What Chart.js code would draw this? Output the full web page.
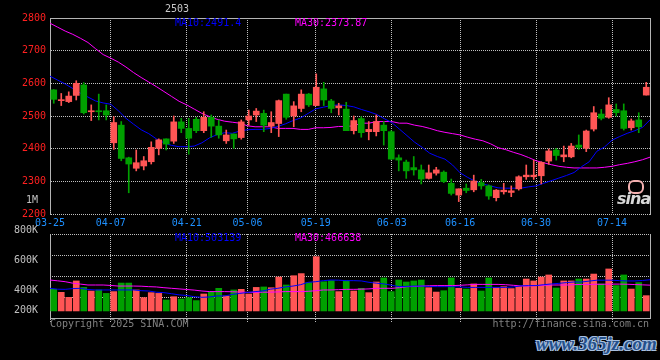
<!DOCTYPE html>
<html><head><meta charset="utf-8">
<script src="https://cdn.jsdelivr.net/npm/chart.js@4.4.1/dist/chart.umd.min.js"></script>
<style>
html,body{margin:0;padding:0;background:#000;width:660px;height:360px;overflow:hidden;}
#wrap{position:relative;width:660px;height:360px;background:#000;}
canvas{position:absolute;left:0;}
#c1{top:0;} #c2{top:190px;}
.t{position:absolute;font-family:'DejaVu Sans Mono',monospace;font-size:10px;line-height:12px;white-space:pre;}
</style></head><body>
<div id="wrap">
<canvas id="c1" width="660" height="230"></canvas>
<canvas id="c2" width="660" height="140"></canvas>
<div class="t" id="hdr" style="left:165px;top:3px;color:#c8c8c8;"></div>
<div class="t" id="lp10" style="left:175px;top:17px;color:#0000ff;"></div>
<div class="t" id="lp30" style="left:295px;top:17px;color:#ff00ff;"></div>
<div class="t" id="lv10" style="left:175px;top:232px;color:#0000ff;"></div>
<div class="t" id="lv30" style="left:295px;top:232px;color:#ff00ff;"></div>
<div class="t" style="left:50px;top:318px;color:#808080;">Copyright 2025 SINA.COM</div>
<div class="t" style="right:11px;top:318px;color:#808080;">http://finance.sina.com.cn</div>
<div style="position:absolute;left:628px;top:180px;width:12px;height:10px;border-radius:6px;border:2px solid #f4b0b0;"></div>
<div style="position:absolute;left:617px;top:189px;font:italic bold 16px 'DejaVu Sans',sans-serif;color:#d8d8d8;letter-spacing:-1px;">sina</div>
<div style="position:absolute;left:536px;top:333px;font:italic bold 19px 'Liberation Serif',serif;color:#24508c;text-shadow:-1px -1px 0 #a8c0e0,1px -1px 0 #a8c0e0,-1px 1px 0 #a8c0e0,1px 1px 0 #a8c0e0;">www.365jz.com</div>
</div>
<script>
const dates = ['03-25','03-26','03-27','03-28','03-31',
'04-01','04-02','04-03','04-07','04-08','04-09','04-10','04-11','04-14','04-15','04-16','04-17','04-18','04-21','04-22','04-23','04-24','04-25','04-28','04-29','04-30',
'05-06','05-07','05-08','05-09','05-12','05-13','05-14','05-15','05-16','05-19','05-20','05-21','05-22','05-23','05-26','05-27','05-28','05-29','05-30',
'06-03','06-04','06-05','06-06','06-09','06-10','06-11','06-12','06-13','06-16','06-17','06-18','06-19','06-20','06-23','06-24','06-25','06-26','06-27','06-30',
'07-01','07-02','07-03','07-04','07-07','07-08','07-09','07-10','07-11','07-14','07-15','07-16','07-17','07-18','07-21'];
const tickDates = ['03-25','04-07','04-21','05-06','05-19','06-03','06-16','06-30','07-14'];

const opens = [2580,2547,2544,2563,2595,2513,2515,2516,2418,2472,
2372,2340,2347,2360,2401,2430,2423,2482,2462,2490,
2455,2496,2469,2424,2445,2434,2488,2503,2508,2469,
2477,2567,2500,2523,2567,2532,2583,2546,2525,2521,
2455,2492,2452,2452,2472,2452,2372,2359,2342,2335,
2309,2325,2328,2294,2258,2279,2274,2296,2286,2250,
2268,2266,2277,2314,2314,2317,2362,2396,2375,2375,
2411,2401,2460,2506,2496,2520,2516,2464,2488,2564];
const closes = [2551,2548,2561,2600,2510,2515,2513,2503,2480,2370,
2353,2357,2363,2404,2427,2414,2482,2462,2432,2455,
2496,2469,2442,2442,2430,2482,2500,2515,2472,2480,
2547,2496,2531,2567,2534,2588,2549,2523,2531,2455,
2486,2449,2459,2483,2455,2368,2365,2332,2335,2307,
2326,2335,2299,2263,2277,2272,2301,2286,2255,2273,
2273,2271,2314,2319,2319,2358,2393,2379,2381,2408,
2404,2454,2510,2493,2534,2510,2462,2485,2467,2588];
const highs = [2581,2569,2574,2608,2602,2534,2567,2534,2498,2483,
2374,2396,2376,2421,2430,2430,2500,2493,2493,2496,
2513,2503,2488,2457,2445,2488,2518,2523,2518,2513,
2549,2567,2544,2580,2569,2629,2603,2551,2539,2542,
2500,2498,2483,2503,2483,2455,2381,2365,2376,2350,
2350,2343,2332,2307,2277,2292,2319,2306,2289,2275,
2294,2286,2317,2350,2365,2360,2399,2401,2408,2416,
2442,2457,2529,2520,2556,2537,2537,2491,2510,2603];
const lows = [2539,2532,2541,2549,2506,2486,2488,2488,2398,2363,
2265,2332,2335,2353,2381,2396,2416,2449,2383,2449,
2449,2435,2432,2416,2401,2429,2472,2483,2452,2449,
2437,2490,2467,2513,2529,2532,2532,2510,2503,2455,
2445,2435,2427,2439,2411,2367,2332,2309,2319,2292,
2307,2319,2296,2258,2238,2265,2268,2276,2245,2240,
2261,2253,2273,2306,2306,2292,2352,2365,2360,2372,
2398,2391,2454,2488,2493,2500,2457,2457,2449,2564];

const ma10 = [2622,2610,2598,2584,2570,2558,2546,2540,2536,2516,
2493,2475,2458,2446,2430,2418,2410,2406,2406,2408,
2418,2433,2443,2449,2447,2454,2458,2459,2459,2462,
2468,2476,2486,2494,2508,2522,2527,2532,2534,2532,
2528,2520,2513,2505,2492,2480,2460,2440,2420,2404,
2386,2376,2368,2350,2326,2312,2300,2292,2286,2280,
2279,2279,2279,2283,2286,2294,2302,2310,2318,2327,
2345,2360,2392,2405,2426,2437,2447,2455,2465,2488];
const ma30 = [2784,2772,2760,2750,2738,2725,2706,2688,2677,2665,
2650,2633,2618,2604,2590,2575,2560,2545,2534,2521,
2508,2498,2490,2484,2481,2478,2470,2467,2467,2467,
2462,2462,2462,2459,2459,2464,2464,2465,2468,2468,
2470,2478,2478,2483,2483,2483,2478,2478,2472,2468,
2462,2455,2450,2446,2442,2435,2429,2424,2415,2403,
2397,2389,2382,2373,2363,2357,2351,2346,2343,2341,
2341,2341,2341,2343,2346,2351,2355,2360,2366,2374];

const volumes = [439000,419000,386000,495000,452000,428000,435000,412000,424000,481000,
481000,435000,384000,417000,412000,368000,390000,375000,384000,364000,
408000,424000,446000,395000,435000,439000,408000,452000,455000,450000,
521000,468000,530000,544000,484000,657000,490000,497000,424000,497000,
428000,446000,417000,488000,515000,424000,501000,488000,495000,501000,
450000,421000,430000,515000,446000,441000,475000,428000,515000,452000,
457000,444000,457000,508000,495000,521000,535000,448000,495000,495000,
508000,508000,541000,475000,575000,464000,535000,441000,484000,397000];
const volMa10 = [446000,440000,439000,444000,446000,438000,435000,435000,435000,435000,
435000,435000,430000,428000,420000,417000,410000,402000,398000,390000,
386000,388000,395000,395000,405000,412000,418000,424000,428000,440000,
446000,455000,461000,470000,486000,490000,497000,501000,500000,497000,
497000,495000,486000,480000,475000,466000,457000,459000,461000,461000,
458000,457000,457000,457000,455000,452000,452000,452000,452000,452000,
452000,455000,462000,464000,464000,470000,475000,479000,484000,488000,
488000,494000,500000,500000,500000,497000,495000,495000,498000,503000];
const volMa30 = [501000,496000,490000,480000,474000,468000,468000,468000,465000,461000,
461000,461000,460000,457000,455000,450000,446000,442000,438000,434000,
428000,424000,424000,424000,423000,421000,419000,419000,420000,420000,
422000,424000,424000,424000,426000,430000,435000,435000,437000,439000,
439000,440000,442000,446000,446000,446000,450000,457000,458000,461000,
463000,464000,464000,464000,466000,469000,472000,472000,472000,472000,
470000,466000,462000,461000,464000,466000,468000,468000,468000,470000,
472000,472000,473000,473000,474000,474000,473000,471000,469000,467000];

const priceTicks = [2800,2700,2600,2500,2400,2300,2200];
const volTickValues = [1000000,800000,600000,400000,200000];
const volTickLabels = ['1M','800K','600K','400K','200K'];
const headerText = '2503';
const legendPriceMa10 = 'MA10:2491.4';
const legendPriceMa30 = 'MA30:2373.87';
const legendVolMa10 = 'MA10:503139';
const legendVolMa30 = 'MA30:466638';

const priceMin = 2200, priceMax = 2800;
const volMin = 248000, volMax = 808000, volBase = 295000, volLabelFloor = 270000;

document.getElementById('hdr').textContent = headerText;
document.getElementById('lp10').textContent = legendPriceMa10;
document.getElementById('lp30').textContent = legendPriceMa30;
document.getElementById('lv10').textContent = legendVolMa10;
document.getElementById('lv30').textContent = legendVolMa30;

Chart.defaults.font.family = "'DejaVu Sans Mono', monospace";
Chart.defaults.font.size = 10;

const RED = '#ff5555', GREEN = '#00a000';
const GRID = '#c0c0c0', BORDER = '#b4b4b4';
const candleColors = closes.map((c, i) => c >= opens[i] ? RED : GREEN);
const tickIdx = tickDates.map(d => dates.indexOf(d));
const lastIdx = dates.length - 1;

new Chart(document.getElementById('c1'), {
  type: 'bar',
  data: {
    labels: dates,
    datasets: [
      {label: 'body', data: opens.map((o, i) => [o, closes[i]]), backgroundColor: candleColors,
       borderWidth: 0, barThickness: 6, minBarLength: 1, grouped: false, xAxisID: 'x', yAxisID: 'y'},
      {label: 'wick', data: lows.map((l, i) => [l, highs[i]]), backgroundColor: candleColors,
       borderWidth: 0, barThickness: 1, grouped: false, xAxisID: 'x', yAxisID: 'y'},
      {type: 'line', label: 'MA10', data: ma10.map((v, i) => ({x: i, y: v})), borderColor: '#0000ff',
       borderWidth: 1, pointRadius: 0, tension: 0, xAxisID: 'xd', yAxisID: 'y'},
      {type: 'line', label: 'MA30', data: ma30.map((v, i) => ({x: i, y: v})), borderColor: '#ff00ff',
       borderWidth: 1, pointRadius: 0, tension: 0, xAxisID: 'xd', yAxisID: 'y'}
    ]
  },
  options: {
    responsive: false, animation: false,
    layout: {padding: {top: 18, left: 0, right: 0, bottom: 0}},
    plugins: {legend: {display: false}, tooltip: {enabled: false}},
    scales: {
      x: {type: 'category', display: false, offset: true},
      xd: {type: 'linear', position: 'bottom', min: 0, max: lastIdx, offset: false,
        afterBuildTicks: s => { s.ticks = tickIdx.map(v => ({value: v})); },
        afterFit: s => { s.height = 16; },
        ticks: {autoSkip: false, maxRotation: 0, color: '#1e90ff', padding: 3, callback: v => dates[v]},
        grid: {color: GRID, drawTicks: false, offset: false},
        border: {display: false, dash: [1, 1]}},
      xtop: {type: 'linear', position: 'top', min: 0, max: 1, offset: false,
        afterFit: s => { s.height = 0; },
        ticks: {display: false}, grid: {display: false}, border: {color: BORDER}},
      y: {type: 'linear', position: 'left', min: priceMin, max: priceMax,
        afterBuildTicks: s => { s.ticks = priceTicks.map(v => ({value: v})); },
        afterFit: s => { s.width = 50; },
        ticks: {color: '#ff2020', padding: 4, autoSkip: false, callback: v => String(v)},
        grid: {color: GRID, drawTicks: false},
        border: {color: BORDER, dash: [1, 1]}},
      yr: {type: 'linear', position: 'right', min: 0, max: 1,
        afterFit: s => { s.width = 10; },
        ticks: {display: false}, grid: {display: false}, border: {color: BORDER}}
    }
  }
});

new Chart(document.getElementById('c2'), {
  type: 'bar',
  data: {
    labels: dates,
    datasets: [
      {type: 'line', label: 'VMA10', data: volMa10.map((v, i) => ({x: i, y: v})), borderColor: '#0000ff',
       borderWidth: 1, pointRadius: 0, tension: 0, xAxisID: 'xd', yAxisID: 'yv'},
      {type: 'line', label: 'VMA30', data: volMa30.map((v, i) => ({x: i, y: v})), borderColor: '#ff00ff',
       borderWidth: 1, pointRadius: 0, tension: 0, xAxisID: 'xd', yAxisID: 'yv'},
      {label: 'volume', data: volumes, backgroundColor: candleColors, borderWidth: 0,
       barThickness: 6, base: volBase, grouped: false, xAxisID: 'x', yAxisID: 'yv'}
    ]
  },
  options: {
    responsive: false, animation: false,
    layout: {padding: {top: 44, left: 0, right: 0, bottom: 0}},
    plugins: {legend: {display: false}, tooltip: {enabled: false}},
    scales: {
      x: {type: 'category', display: false, offset: true},
      xd: {type: 'linear', position: 'bottom', min: 0, max: lastIdx, offset: false,
        afterBuildTicks: s => { s.ticks = tickIdx.map(v => ({value: v})); },
        afterFit: s => { s.height = 12; },
        ticks: {display: false},
        grid: {color: GRID, drawTicks: true, tickLength: 5, tickColor: GRID, tickBorderDash: [1, 1], offset: false},
        border: {color: BORDER, dash: [1, 1]}},
      yv: {type: 'linear', position: 'left', min: volMin, max: volMax,
        afterBuildTicks: s => { s.ticks = volTickValues.map(v => ({value: Math.max(v, volLabelFloor)})); },
        afterFit: s => { s.width = 50; },
        ticks: {color: '#c0c0c0', padding: 4, autoSkip: false, labelOffset: -4.5, callback: (v, i) => volTickLabels[i]},
        grid: {display: false},
        border: {color: BORDER}},
      yg: {type: 'linear', position: 'right', min: 0, max: 4,
        afterFit: s => { s.width = 10; },
        ticks: {display: false, stepSize: 1},
        grid: {color: GRID, drawTicks: false},
        border: {color: BORDER, dash: [1, 1]}}
    }
  }
});
</script>
</body></html>
